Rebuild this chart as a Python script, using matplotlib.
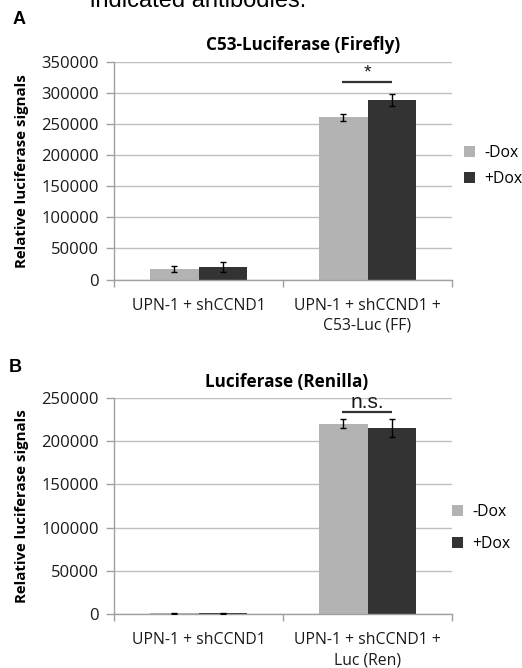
import matplotlib
matplotlib.use("Agg")
import matplotlib.pyplot as plt
import numpy as np

# ---- data ----
categories_a = ["UPN-1 + shCCND1", "UPN-1 + shCCND1 +\nC53-Luc (FF)"]
categories_b = ["UPN-1 + shCCND1", "UPN-1 + shCCND1 +\nLuc (Ren)"]
series = ["-Dox", "+Dox"]
a_minus = [17000, 261000]
a_plus = [20500, 289000]
a_minus_err = [5000, 6000]
a_plus_err = [8000, 10000]
b_minus = [1000, 220000]
b_plus = [1000, 215000]
b_minus_err = [600, 5000]
b_plus_err = [600, 10000]
a_ticks = [0, 50000, 100000, 150000, 200000, 250000, 300000, 350000]
b_ticks = [0, 50000, 100000, 150000, 200000, 250000]
a_sig_y = 318000
b_sig_y = 233000

W, H = 522, 668
fig = plt.figure(figsize=(W / 100, H / 100), dpi=100)
FONT = "Open Sans"
light = "#b3b3b3"
dark = "#333333"
grid_c = "#c0c0c0"

def px(x0, y0, x1, y1):
    return [x0 / W, 1 - y1 / H, (x1 - x0) / W, (y1 - y0) / H]

def panel(rect, cats, minus, plus, merr, perr, ticks, ymax, sig_y, sig_text, sig_size,
          title, title_x, title_y):
    ax = fig.add_axes(rect)
    x = np.arange(len(cats))
    w = 0.287
    ax.bar(x - w / 2, minus, w, color=light, label=series[0], zorder=2)
    ax.bar(x + w / 2, plus, w, color=dark, label=series[1], zorder=2)
    ax.errorbar(x - w / 2, minus, yerr=merr, fmt="none", ecolor="black",
                elinewidth=1, capsize=2.5, capthick=1, zorder=3)
    ax.errorbar(x + w / 2, plus, yerr=perr, fmt="none", ecolor="black",
                elinewidth=1, capsize=2.5, capthick=1, zorder=3)
    ax.set_xlim(-0.5, len(cats) - 0.5)
    ax.set_ylim(0, ymax)
    ax.set_yticks(ticks)
    ax.set_yticklabels([str(t) for t in ticks], fontsize=12, family=FONT, color="#1a1a1a")
    ax.yaxis.grid(True, color=grid_c, linewidth=1, zorder=0)
    ax.set_axisbelow(True)
    ax.set_xticks([-0.5, 0.5, 1.5])
    ax.set_xticklabels(["", "", ""])
    ax.set_xticks(x, minor=True)
    ax.set_xticklabels(cats, minor=True, fontsize=11.3, family=FONT, color="#1a1a1a",
                       linespacing=1.35)
    ax.tick_params(axis="x", which="minor", length=0, pad=13)
    ax.tick_params(axis="x", which="major", length=5, color="#a0a0a0", width=1)
    ax.tick_params(axis="y", length=6, color="#a0a0a0", width=1, pad=5)
    for s in ["top", "right"]:
        ax.spines[s].set_visible(False)
    for s in ["left", "bottom"]:
        ax.spines[s].set_color("#a0a0a0")
        ax.spines[s].set_linewidth(1)
    ax.set_ylabel("Relative luciferase signals", fontsize=10.8, family=FONT,
                  fontweight="bold", labelpad=9)
    # significance bar
    ax.plot([1 - w / 2 - 0.005, 1 + w / 2 + 0.0], [sig_y, sig_y], color=dark, lw=1.6,
            solid_capstyle="butt", zorder=4)
    ax.text(1, sig_y, sig_text, ha="center", va="bottom", fontsize=sig_size,
            family="Liberation Sans", color="#1a1a1a")
    fig.text(title_x / W, 1 - title_y / H, title, ha="center", va="center",
             fontsize=12.3, family=FONT, fontweight="bold")
    return ax

ax_a = panel(px(114, 62, 452, 279.5), categories_a, a_minus, a_plus, a_minus_err,
             a_plus_err, a_ticks, 350000, a_sig_y, "*", 14, "C53-Luciferase (Firefly)", 303, 45)
ax_b = panel(px(114, 397.7, 452, 614.3), categories_b, b_minus, b_plus, b_minus_err,
             b_plus_err, b_ticks, 250000, b_sig_y, "n.s.", 15, "Luciferase (Renilla)", 287, 382)

ax_a.legend(loc="center left", bbox_to_anchor=(464 / W, 1 - 166 / H),
            bbox_transform=fig.transFigure, frameon=False, prop={"family": FONT, "size": 11.3},
            handlelength=0.7, handleheight=0.7, handletextpad=0.6, labelspacing=0.6,
            borderpad=0, borderaxespad=0)
ax_b.legend(loc="center left", bbox_to_anchor=(452 / W, 1 - 528 / H),
            bbox_transform=fig.transFigure, frameon=False, prop={"family": FONT, "size": 11.3},
            handlelength=0.7, handleheight=0.7, handletextpad=0.6, labelspacing=1.0,
            borderpad=0, borderaxespad=0)

fig.text(19 / W, 1 - 20 / H, "A", ha="center", va="center", fontsize=13,
         family="Liberation Sans", fontweight="bold")
fig.text(15 / W, 1 - 367 / H, "B", ha="center", va="center", fontsize=13,
         family="Liberation Sans", fontweight="bold")
fig.text(90 / W, 1 - 7 / H, "indicated antibodies.", ha="left", va="baseline",
         fontsize=17, family="Liberation Sans")

fig.savefig("out.png", dpi=100)
